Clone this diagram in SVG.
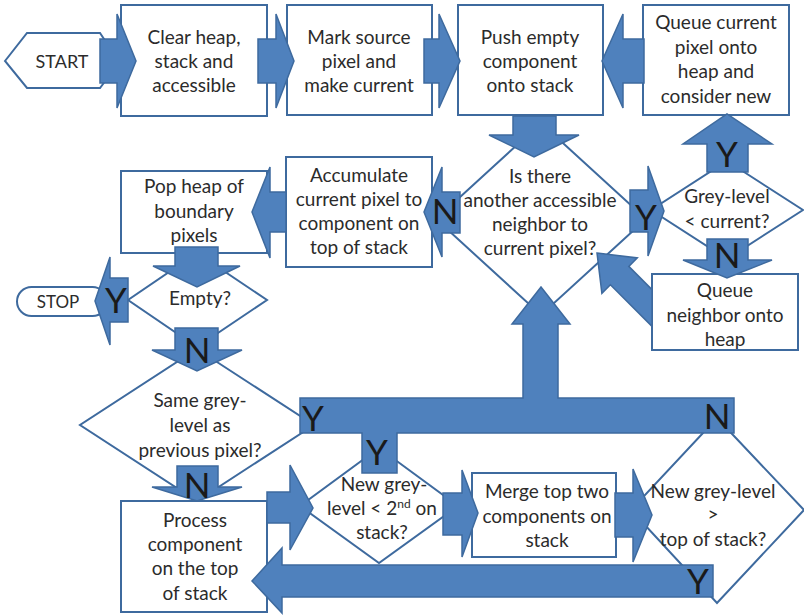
<svg xmlns="http://www.w3.org/2000/svg" width="804" height="616" viewBox="0 0 804 616">
<style>
.box{fill:#fff;stroke:#3E6A9E;stroke-width:2}
.arr{fill:#4F81BD;stroke:#3E6A9E;stroke-width:1.5;stroke-linejoin:miter}
.t{font-family:Lato,"Noto Sans",sans-serif;font-size:19px;fill:#2b2b2b;text-anchor:middle}
.yn{font-family:Lato,"Noto Sans",sans-serif;font-size:35px;fill:#1a1a1a;text-anchor:middle}
</style>
<rect width="804" height="616" fill="#fff"/>
<g id="start"><polygon class="box" points="5,61 27,33 100,33 106,42 106,80 100,88 27,88"/><text class="t" x="62" y="68" style="font-size:18px">START</text></g>
<g id="clear"><rect class="box" x="121" y="5" width="146" height="111"/><text class="t" x="194" y="44">Clear heap,</text><text class="t" x="194" y="68">stack and</text><text class="t" x="194" y="92">accessible</text></g>
<g id="mark"><rect class="box" x="287" y="5" width="145" height="110"/><text class="t" x="359" y="44">Mark source</text><text class="t" x="359" y="68">pixel and</text><text class="t" x="359" y="92">make current</text></g>
<g id="push"><rect class="box" x="458" y="5" width="145" height="110"/><text class="t" x="530" y="44">Push empty</text><text class="t" x="530" y="68">component</text><text class="t" x="530" y="92">onto stack</text></g>
<g id="queuecur"><rect class="box" x="643" y="5" width="146" height="110"/><text class="t" x="716" y="29">Queue current</text><text class="t" x="716" y="54">pixel onto</text><text class="t" x="716" y="78">heap and</text><text class="t" x="716" y="103">consider new</text></g>
<g id="another"><polygon class="box" points="541,123 646,219 541,315 436,219"/><text class="t" x="540" y="183">Is there</text><text class="t" x="540" y="207">another accessible</text><text class="t" x="540" y="231">neighbor to</text><text class="t" x="540" y="255">current pixel?</text></g>
<g id="accum"><rect class="box" x="286" y="157" width="146" height="110"/><text class="t" x="359" y="182">Accumulate</text><text class="t" x="359" y="206">current pixel to</text><text class="t" x="359" y="230">component on</text><text class="t" x="359" y="254">top of stack</text></g>
<g id="greylevel"><polygon class="box" points="727,161 803,210 727,259 651,210"/><text class="t" x="727" y="203">Grey-level</text><text class="t" x="727" y="228">&lt; current?</text></g>
<g id="queuenb"><rect class="box" x="652" y="274" width="146" height="76"/><text class="t" x="725" y="297">Queue</text><text class="t" x="725" y="322">neighbor onto</text><text class="t" x="725" y="346">heap</text></g>
<g id="pop"><rect class="box" x="121" y="171" width="146" height="82"/><text class="t" x="194" y="193">Pop heap of</text><text class="t" x="194" y="218">boundary</text><text class="t" x="194" y="242">pixels</text></g>
<g id="empty"><polygon class="box" points="197,253 267,300 197,347 128,300"/><text class="t" x="200" y="305">Empty?</text></g>
<g id="stop"><rect class="box" x="17" y="287" width="90" height="29" rx="14.5"/><text class="t" x="58" y="308" style="font-size:17px">STOP</text></g>
<g id="same"><polygon class="box" points="197,349 314,425 197,501 80,425"/><text class="t" x="200" y="407">Same grey-</text><text class="t" x="200" y="432">level as</text><text class="t" x="200" y="457">previous pixel?</text></g>
<g id="process"><rect class="box" x="121" y="501" width="146" height="111"/><text class="t" x="195" y="527">Process</text><text class="t" x="195" y="551">component</text><text class="t" x="195" y="575">on the top</text><text class="t" x="195" y="600">of stack</text></g>
<g id="second"><polygon class="box" points="379,448 458,506 379,563 300,506"/><text class="t" x="384" y="491">New grey-</text><text class="t" x="382" y="515">level &lt; 2<tspan style="font-size:12px" dy="-7">nd</tspan><tspan dy="7"> on</tspan></text><text class="t" x="382" y="539">stack?</text></g>
<g id="merge"><rect class="box" x="472" y="473" width="144" height="84"/><text class="t" x="547" y="498">Merge top two</text><text class="t" x="547" y="523">components on</text><text class="t" x="547" y="547">stack</text></g>
<g id="greater"><polygon class="box" points="717,418 804,510 717,603 631,510"/><text class="t" x="713" y="498">New grey-level</text><text class="t" x="713" y="521">&gt;</text><text class="t" x="713" y="546">top of stack?</text></g>
<g id="connectors">
<polygon class="arr" points="100,39 117,39 117,14 136,61 117,108 117,83 100,83"/>
<polygon class="arr" points="258,39 276,39 276,14 294,61 276,108 276,83 258,83"/>
<polygon class="arr" points="424,39 439,39 439,14 460,61 439,108 439,83 424,83"/>
<polygon class="arr" points="644,39 623,39 623,14 602,61 623,108 623,83 644,83"/>
<polygon class="arr" points="513,116 556,116 556,135 579,135 534,157 489,135 513,135"/>
<polygon class="arr" points="460,192 442,192 442,167 424,212 442,257 442,233 460,233"/>
<polygon class="arr" points="630,190 648,190 648,166 664,211 648,256 648,232 630,232"/>
<polygon class="arr" points="707,172 707,144 683,144 727,114 772,144 748,144 748,172"/>
<polygon class="arr" points="707,239 748,239 748,260 772,260 727,278 683,260 707,260"/>
<polygon class="arr" points="597,253 637.3,257.9 628.8,266.4 652,289.6 652,326.4 610.4,284.8 601.9,293.3"/>
<polygon class="arr" points="286,192 270,192 270,167 252,212 270,258 270,232 286,232"/>
<polygon class="arr" points="175,247 218,247 218,266 240,266 197,287 153,266 175,266"/>
<polygon class="arr" points="128,278 110,278 110,257 95,301 110,345 110,322 128,322"/>
<polygon class="arr" points="175,328 218,328 218,350 242,350 197,371 152,350 175,350"/>
<polygon class="arr" points="177,466 218,466 218,487 242,487 197,501 152,487 177,487"/>
<polygon class="arr" points="267,492 290,492 290,465 313,508 290,550 290,523 267,523"/>
<polygon class="arr" points="443,493 462,493 462,470 478,513 462,557 462,535 443,535"/>
<polygon class="arr" points="615,493 633,493 633,469 652,515 633,562 633,537 615,537"/>
<polygon class="arr" points="713,565 282,565 282,548 252,581 282,613 282,597 713,597"/>
<polygon class="arr" points="300,398 523,398 523,324 512,324 541,287 570,324 558,324 558,398 734,398 734,433 397,433 397,473 362,473 362,433 300,433"/>
<text class="yn" x="646" y="230">Y</text>
<text class="yn" x="727" y="167">Y</text>
<text class="yn" x="727" y="268">N</text>
<text class="yn" x="445" y="224">N</text>
<text class="yn" x="116" y="313">Y</text>
<text class="yn" x="197" y="363">N</text>
<text class="yn" x="197" y="498">N</text>
<text class="yn" x="313" y="431">Y</text>
<text class="yn" x="377" y="465">Y</text>
<text class="yn" x="717" y="429">N</text>
<text class="yn" x="698" y="594">Y</text>
</g>
</svg>
